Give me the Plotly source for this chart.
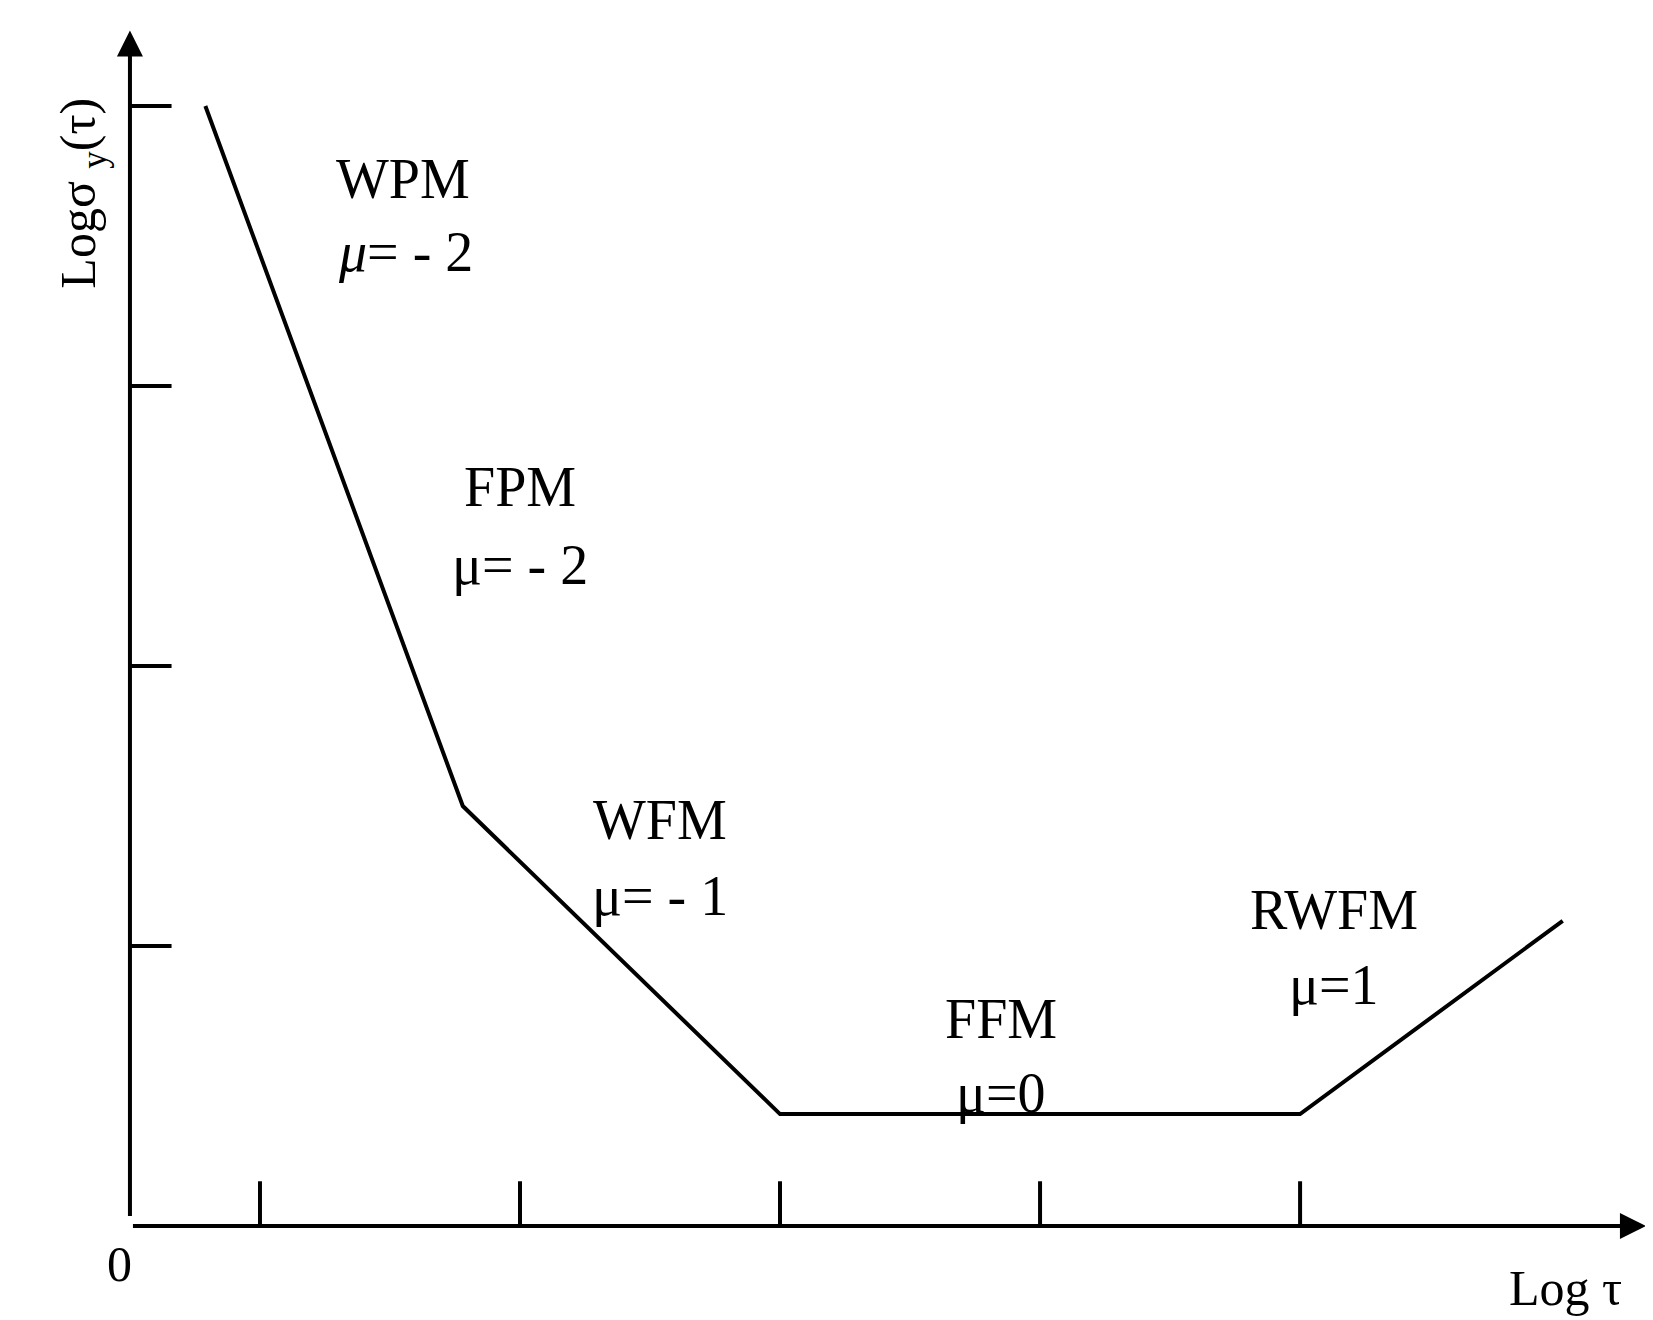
import plotly.graph_objects as go

# piecewise Allan deviation slopes (schematic)
line_x = [0.29, 1.28, 2.5, 4.5, 5.51]
line_y = [4.0, 1.5, 0.40, 0.40, 1.09]

xtick_pos = [0.5, 1.5, 2.5, 3.5, 4.5]
ytick_pos = [1, 2, 3, 4]

labels = ["WPM", "<i>μ</i>= - 2", "FPM", "μ= - 2", "WFM", "μ= - 1", "FFM", "μ=0", "RWFM", "μ=1"]
label_x = [1.05, 1.06, 1.50, 1.50, 2.04, 2.04, 3.35, 3.35, 4.63, 4.63]
label_y = [3.74, 3.48, 2.64, 2.36, 1.45, 1.18, 0.74, 0.475, 1.13, 0.86]

FONT = "Liberation Serif, Times New Roman, serif"
fig = go.Figure()

fig.add_trace(go.Scatter(x=line_x, y=line_y, mode="lines",
                         line=dict(color="black", width=4), showlegend=False))

# tick marks
for t in xtick_pos:
    fig.add_shape(type="line", x0=t, x1=t, y0=0, y1=0.16, line=dict(color="black", width=4))
for t in ytick_pos:
    fig.add_shape(type="line", x0=0, x1=0.16, y0=t, y1=t, line=dict(color="black", width=4))

# axes with arrowheads
fig.add_annotation(x=5.83, y=0, ax=0, ay=0, xref="x", yref="y", axref="x", ayref="y",
                   showarrow=True, arrowhead=2, arrowsize=1.3, arrowwidth=4,
                   arrowcolor="black", text=" ")
fig.add_annotation(x=0, y=4.27, ax=0, ay=0, xref="x", yref="y", axref="x", ayref="y",
                   showarrow=True, arrowhead=2, arrowsize=1.3, arrowwidth=4,
                   arrowcolor="black", text=" ")

for t, x, y in zip(labels, label_x, label_y):
    fig.add_annotation(x=x, y=y, text=t, showarrow=False,
                       font=dict(family=FONT, size=56, color="black"))

fig.add_annotation(x=-0.04, y=-0.136, text="0", showarrow=False,
                   font=dict(family=FONT, size=50, color="black"))
fig.add_annotation(x=5.52, y=-0.22, text="Log τ", showarrow=False,
                   font=dict(family=FONT, size=50, color="black"))
fig.add_annotation(x=-0.185, y=3.69, text="Logσ <sub>y</sub>(τ)", showarrow=False, textangle=-90,
                   font=dict(family=FONT, size=50, color="black"))

fig.update_layout(
    width=1653, height=1320,
    margin=dict(l=0, r=0, t=0, b=0),
    plot_bgcolor="white", paper_bgcolor="white",
    xaxis=dict(range=[-0.469, 5.888], visible=False),
    yaxis=dict(range=[-0.364, 4.35], visible=False),
)

fig.write_html("out.html")
